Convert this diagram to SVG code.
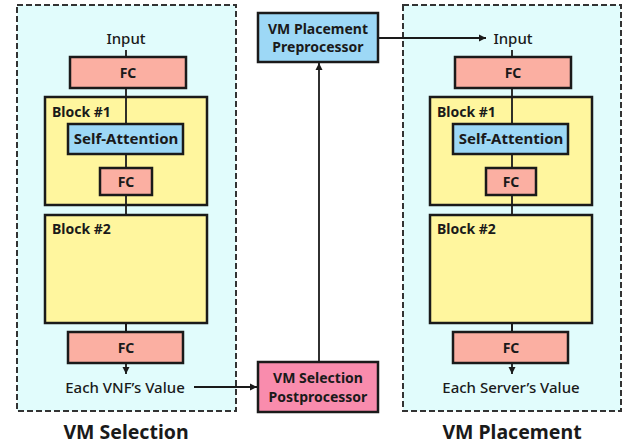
<svg xmlns="http://www.w3.org/2000/svg" width="628" height="444" viewBox="0 0 628 444">
<style>
.panel{fill:#e1fcfc;stroke:#333;stroke-width:2;stroke-dasharray:6,3}
.fc{fill:#fbafa2;stroke:#1a1a1a;stroke-width:2.5}
.blk{fill:#fff69e;stroke:#1a1a1a;stroke-width:2.5}
.sa{fill:#9dd8f6;stroke:#1a1a1a;stroke-width:2.5}
.pre{fill:#9dd8f6;stroke:#1a1a1a;stroke-width:2.5}
.post{fill:#f98cad;stroke:#1a1a1a;stroke-width:2.5}
.line{stroke:#1a1a1a;stroke-width:1.8;fill:none}
text{font-family:"Noto Sans","Open Sans",sans-serif;fill:#1a1a1a}
.t{font-size:15px;text-anchor:middle;font-weight:500}
.b{font-size:14px;font-weight:bold}
.c{font-size:14px;font-weight:bold;text-anchor:middle}
.sat{font-size:15px;font-weight:bold;text-anchor:middle}
.title{font-size:19.5px;font-weight:bold;text-anchor:middle}
</style>
<defs>
<marker id="ah" viewBox="0 0 10 10" refX="10" refY="5" markerWidth="4" markerHeight="4" orient="auto"><path d="M0,0 L10,5 L0,10 z" fill="#1a1a1a"/></marker>
</defs>
<rect x="0" y="0" width="628" height="444" fill="#fff"/>
<g id="vm-selection">
<rect class="panel" x="17" y="5" width="219" height="406"/>
<line class="line" x1="126" y1="50" x2="126" y2="332"/>
<line class="line" x1="126" y1="363" x2="126" y2="374" marker-end="url(#ah)"/>
<text class="t" x="126" y="44">Input</text>
<g id="sel-fc1"><rect class="fc" x="70" y="57" width="116" height="31"/><text class="c" x="128" y="78">FC</text></g>
<g id="sel-block1"><rect class="blk" x="45" y="97" width="162" height="108"/><text class="b" x="52" y="117">Block #1</text>
<line class="line" x1="126" y1="97" x2="126" y2="205"/>
<g id="sel-sa"><rect class="sa" x="68" y="124" width="115" height="30"/><text class="sat" x="126" y="144">Self-Attention</text></g>
<g id="sel-fc2"><rect class="fc" x="100" y="168" width="52" height="27"/><text class="c" x="126" y="187">FC</text></g></g>
<g id="sel-block2"><rect class="blk" x="45" y="215" width="162" height="108"/><text class="b" x="52" y="234">Block #2</text></g>
<line class="line" x1="126" y1="323" x2="126" y2="332"/>
<g id="sel-fc3"><rect class="fc" x="68" y="332" width="115" height="31"/><text class="c" x="126" y="353">FC</text></g>
<text class="t" x="125" y="393">Each VNF’s Value</text>
<text class="title" x="126" y="439">VM Selection</text>
</g>
<g id="vm-placement">
<rect class="panel" x="403" y="5" width="218" height="406"/>
<line class="line" x1="512" y1="50" x2="512" y2="332"/>
<line class="line" x1="512" y1="363" x2="512" y2="374" marker-end="url(#ah)"/>
<text class="t" x="513" y="44">Input</text>
<g id="pl-fc1"><rect class="fc" x="455" y="57" width="116" height="31"/><text class="c" x="513" y="78">FC</text></g>
<g id="pl-block1"><rect class="blk" x="430" y="97" width="162" height="108"/><text class="b" x="437" y="117">Block #1</text>
<line class="line" x1="512" y1="97" x2="512" y2="205"/>
<g id="pl-sa"><rect class="sa" x="453" y="124" width="115" height="30"/><text class="sat" x="511" y="144">Self-Attention</text></g>
<g id="pl-fc2"><rect class="fc" x="486" y="168" width="50" height="27"/><text class="c" x="511" y="187">FC</text></g></g>
<g id="pl-block2"><rect class="blk" x="430" y="215" width="162" height="108"/><text class="b" x="437" y="234">Block #2</text></g>
<line class="line" x1="512" y1="323" x2="512" y2="332"/>
<g id="pl-fc3"><rect class="fc" x="453" y="332" width="115" height="31"/><text class="c" x="511" y="353">FC</text></g>
<text class="t" x="511" y="393">Each Server’s Value</text>
<text class="title" x="512" y="439">VM Placement</text>
</g>
<g id="preprocessor"><rect class="pre" x="258" y="13" width="120" height="49"/><text class="c" x="318" y="34">VM Placement</text><text class="c" x="318" y="52">Preprocessor</text></g>
<g id="postprocessor"><rect class="post" x="258" y="362" width="120" height="50"/><text class="c" x="318" y="383">VM Selection</text><text class="c" x="318" y="402">Postprocessor</text></g>
<g id="connectors">
<line class="line" x1="194" y1="387" x2="257" y2="387" marker-end="url(#ah)"/>
<line class="line" x1="319" y1="362" x2="319" y2="63" marker-end="url(#ah)"/>
<line class="line" x1="378" y1="38" x2="486" y2="38" marker-end="url(#ah)"/>
</g>
</svg>
